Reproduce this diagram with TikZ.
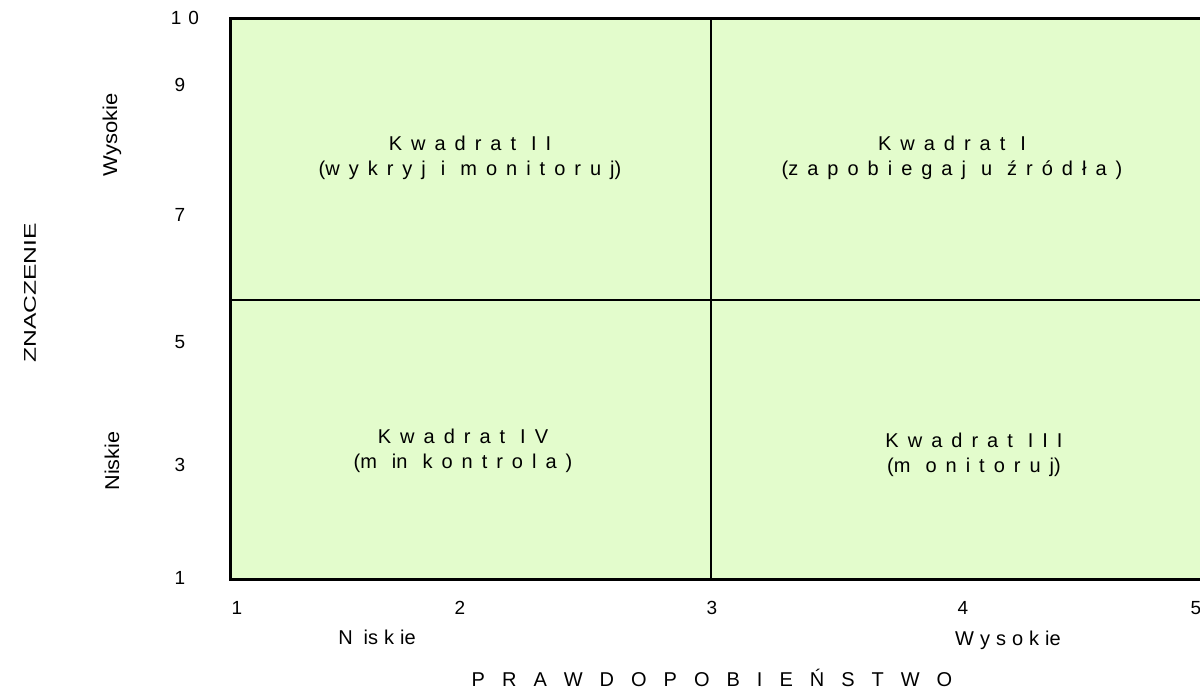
\documentclass[tikz,border=0pt]{standalone}
\usepackage{fontspec}
\setmainfont{Liberation Sans}
\definecolor{quadfill}{RGB}{227,252,204}
\newcommand{\wg}{\hspace{15pt}}
\newcommand{\qsk}{\spaceskip=9pt\relax}
\tikzset{
  qlabel/.style={font=\fontsize{20}{25}\selectfont, align=center, inner sep=0pt},
  ticklabel/.style={font=\fontsize{19}{22}\selectfont, inner sep=0pt},
  axlabel/.style={font=\fontsize{20}{24}\selectfont, inner sep=0pt},
  sidelabel/.style={font=\fontsize{20}{24}\selectfont, inner sep=0pt, rotate=90},
  frame/.style={line width=3pt},
  divider/.style={line width=2pt}
}
\begin{document}
\begin{tikzpicture}[x=1pt,y=-1pt]
\useasboundingbox (0,0) rectangle (1200,691);
\clip (0,0) rectangle (1200,691);
% field
\fill[quadfill] (230,18) rectangle (1215,579);
\coordinate (tl) at (230,18);
\coordinate (tr) at (1215,18);
\coordinate (bl) at (230,579);
\coordinate (br) at (1215,579);
\coordinate (vt) at (711,18);
\coordinate (vb) at (711,579);
\coordinate (hl) at (230,300);
\coordinate (hr) at (1215,300);
\draw[divider] (vt) -- (vb);
\draw[divider] (hl) -- (hr);
\draw[frame] (tr) -- (tl) -- (bl) -- (br);
% quadrant labels
\node[qlabel] (q2) at (470,158) {\qsk K w a d r a t\wg I I\\\qsk (w y k r y j\wg i\wg m o n i t o r u j)};
\node[qlabel] (q1) at (952,158) {\qsk K w a d r a t\wg I\\\qsk (z a p o b i e g a j\wg u\wg ź r ó d ł a )};
\node[qlabel] (q4) at (463,451) {\qsk K w a d r a t\wg I V\\\qsk (m\wg in\wg k o n t r o l a )};
\node[qlabel] (q3) at (974,455) {\qsk K w a d r a t\wg I I I\\\qsk (m\wg o n i t o r u j)};
% y ticks
\node[ticklabel] (y10) at (185,18) {1\hspace{7pt}0};
\node[ticklabel] (y9) at (180,85) {9};
\node[ticklabel] (y7) at (180,215) {7};
\node[ticklabel] (y5) at (180,342) {5};
\node[ticklabel] (y3) at (180,465) {3};
\node[ticklabel] (y1) at (180,578) {1};
% x ticks
\node[ticklabel] (x1) at (237,608) {1};
\node[ticklabel] (x2) at (460,608) {2};
\node[ticklabel] (x3) at (712,608) {3};
\node[ticklabel] (x4) at (963,608) {4};
\node[ticklabel] (x5) at (1196,608) {5};
% x axis words
\node[axlabel] (xlow) at (377,637) {\spaceskip=6pt\relax N\hspace{11pt}is k ie};
\node[axlabel] (xhigh) at (1008,640) {\spaceskip=6pt\relax W y s o k ie};
\node[axlabel] (xtitle) at (712,678) {\spaceskip=17pt\relax P R A W D O P O B I E Ń S T W O};
% y axis words
\node[sidelabel] (yhigh) at (112,135) {\scalebox{1.1}[1]{Wysokie}};
\node[sidelabel] (ylow) at (112,461) {\scalebox{1.08}[1]{Niskie}};
\node[sidelabel, font=\fontsize{17}{20}\selectfont] (ytitle) at (30,293) {\scalebox{1.45}[1]{ZNACZENIE}};
\end{tikzpicture}
\end{document}
